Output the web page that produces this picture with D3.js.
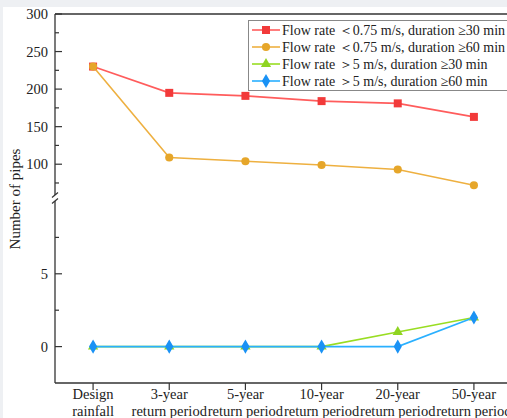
<!DOCTYPE html>
<html>
<head>
<meta charset="utf-8">
<script src="https://cdn.jsdelivr.net/npm/d3@7"></script>
<style>
  html, body { margin: 0; padding: 0; background: #eef0f3; }
  svg { display: block; }
</style>
</head>
<body>
<div id="display-container"></div>
<script>
var catTop = ["Design", "3-year", "5-year", "10-year", "20-year", "50-year"];
var catBottom = ["rainfall", "return period", "return period", "return period", "return period", "return period"];

var slow30 = [230, 195, 191, 184, 181, 163];
var slow60 = [230, 109, 104, 99, 93, 72];
var fast30 = [0, 0, 0, 0, 1, 2];
var fast60 = [0, 0, 0, 0, 0, 2];

var seriesNames = [
    "Flow rate \uFF1C0.75 m/s, duration \u226530 min",
    "Flow rate \uFF1C0.75 m/s, duration \u226560 min",
    "Flow rate \uFF1E5 m/s, duration \u226530 min",
    "Flow rate \uFF1E5 m/s, duration \u226560 min"
];

var topTicks = [100, 150, 200, 250, 300];
var topMinor = [75, 125, 175, 225, 275];
var lowTicks = [0, 5];
var lowMinor = [2.5, 7.5];

function drawChart() {
    var width = 507, height = 418;
    var svg = d3.select("#display-container").append("svg")
        .attr("width", width)
        .attr("height", height);

    // white page, thin gray band at top and left like the screenshot
    svg.append("rect").attr("x", 3).attr("y", 7).attr("width", width).attr("height", height)
        .attr("fill", "#ffffff");

    var mLeft = 55, mRight = 512, mTop = 14, mBottom = 383;
    var font = "'Liberation Serif', 'Times New Roman', serif";
    var axisColor = "#333";

    var x = d3.scalePoint().domain(catTop).range([mLeft, mRight]).padding(0.5);
    var yTop = d3.scaleLinear().domain([55, 300]).range([198, mTop]);
    var yLow = d3.scaleLinear().domain([-2.5, 10]).range([mBottom, 201]);

    function yOf(v) { return v >= 30 ? yTop(v) : yLow(v); }

    // frame: top line and bottom axis
    svg.append("line").attr("x1", mLeft).attr("x2", mRight).attr("y1", mTop).attr("y2", mTop)
        .attr("stroke", axisColor).attr("stroke-width", 1.3);
    svg.append("line").attr("x1", mLeft).attr("x2", mRight).attr("y1", mBottom).attr("y2", mBottom)
        .attr("stroke", axisColor).attr("stroke-width", 1.3);

    // broken left and right axes
    [mLeft, mRight].forEach(function(ax) {
        svg.append("line").attr("x1", ax).attr("x2", ax).attr("y1", mTop).attr("y2", 195)
            .attr("stroke", axisColor).attr("stroke-width", 1.3);
        svg.append("line").attr("x1", ax).attr("x2", ax).attr("y1", 201).attr("y2", mBottom)
            .attr("stroke", axisColor).attr("stroke-width", 1.3);
        [195, 201].forEach(function(yy) {
            svg.append("line").attr("x1", ax - 3).attr("x2", ax + 3)
                .attr("y1", yy + 2.5).attr("y2", yy - 2.5)
                .attr("stroke", axisColor).attr("stroke-width", 1.2);
        });
    });

    // y ticks (inward)
    var yAxisG = svg.append("g");
    function drawTicks(scale, majors, minors) {
        majors.forEach(function(v) {
            yAxisG.append("line").attr("x1", mLeft).attr("x2", mLeft + 7)
                .attr("y1", scale(v)).attr("y2", scale(v)).attr("stroke", axisColor).attr("stroke-width", 1.2);
            yAxisG.append("text").attr("x", mLeft - 7).attr("y", scale(v)).attr("dy", "0.35em")
                .attr("text-anchor", "end").style("font-family", font).style("font-size", "14.5px")
                .attr("fill", "#222").text(v);
        });
        minors.forEach(function(v) {
            yAxisG.append("line").attr("x1", mLeft).attr("x2", mLeft + 4)
                .attr("y1", scale(v)).attr("y2", scale(v)).attr("stroke", axisColor).attr("stroke-width", 1.2);
        });
    }
    drawTicks(yTop, topTicks, topMinor);
    drawTicks(yLow, lowTicks, lowMinor);

    // x ticks (outward) and two-line labels
    catTop.forEach(function(c, i) {
        var xx = x(c);
        svg.append("line").attr("x1", xx).attr("x2", xx).attr("y1", mBottom).attr("y2", mBottom + 7)
            .attr("stroke", axisColor).attr("stroke-width", 1.2);
        svg.append("text").attr("x", xx).attr("y", 399).attr("text-anchor", "middle")
            .style("font-family", font).style("font-size", "14.5px").attr("fill", "#222").text(c);
        svg.append("text").attr("x", xx).attr("y", 416).attr("text-anchor", "middle")
            .style("font-family", font).style("font-size", "14.5px").attr("fill", "#222").text(catBottom[i]);
    });

    svg.append("text")
        .attr("transform", "translate(20,199) rotate(-90)")
        .attr("text-anchor", "middle")
        .style("font-family", font).style("font-size", "15px").attr("fill", "#222")
        .text("Number of pipes");

    var series = [
        { values: slow30, line: "#ff5c5c", fill: "#f23a3a", shape: d3.symbolSquare, size: 64 },
        { values: slow60, line: "#eeb040", fill: "#e6a62a", shape: d3.symbolCircle, size: 52 },
        { values: fast30, line: "#99dd22", fill: "#8fd422", shape: d3.symbolTriangle, size: 46 },
        { values: fast60, line: "#2ab0ff", fill: "#1a92f5", shape: d3.symbolDiamond, size: 58 }
    ];

    var line = d3.line()
        .x(function(d, i) { return x(catTop[i]); })
        .y(function(d) { return yOf(d); });

    series.forEach(function(s) {
        svg.append("path").datum(s.values)
            .attr("d", line)
            .attr("fill", "none")
            .attr("stroke", s.line)
            .attr("stroke-width", 1.6);
        svg.selectAll(null).data(s.values).enter().append("path")
            .attr("transform", function(d, i) { return "translate(" + x(catTop[i]) + "," + yOf(d) + ")"; })
            .attr("d", d3.symbol().type(s.shape).size(s.size))
            .attr("fill", s.fill);
    });

    // legend
    var lg = svg.append("g");
    lg.append("rect").attr("x", 248.5).attr("y", 20.5).attr("width", 280).attr("height", 70)
        .attr("fill", "#fff").attr("stroke", "#888").attr("stroke-width", 1);
    series.forEach(function(s, i) {
        var yy = 30 + i * 17;
        lg.append("line").attr("x1", 252).attr("x2", 280).attr("y1", yy).attr("y2", yy)
            .attr("stroke", s.line).attr("stroke-width", 1.6);
        lg.append("path").attr("transform", "translate(266," + yy + ")")
            .attr("d", d3.symbol().type(s.shape).size(s.size)).attr("fill", s.fill);
        lg.append("text").attr("x", 282).attr("y", yy).attr("dy", "0.35em")
            .style("font-family", font).style("font-size", "14px").attr("fill", "#222")
            .text(seriesNames[i]);
    });
}

drawChart();
</script>
</body>
</html>
